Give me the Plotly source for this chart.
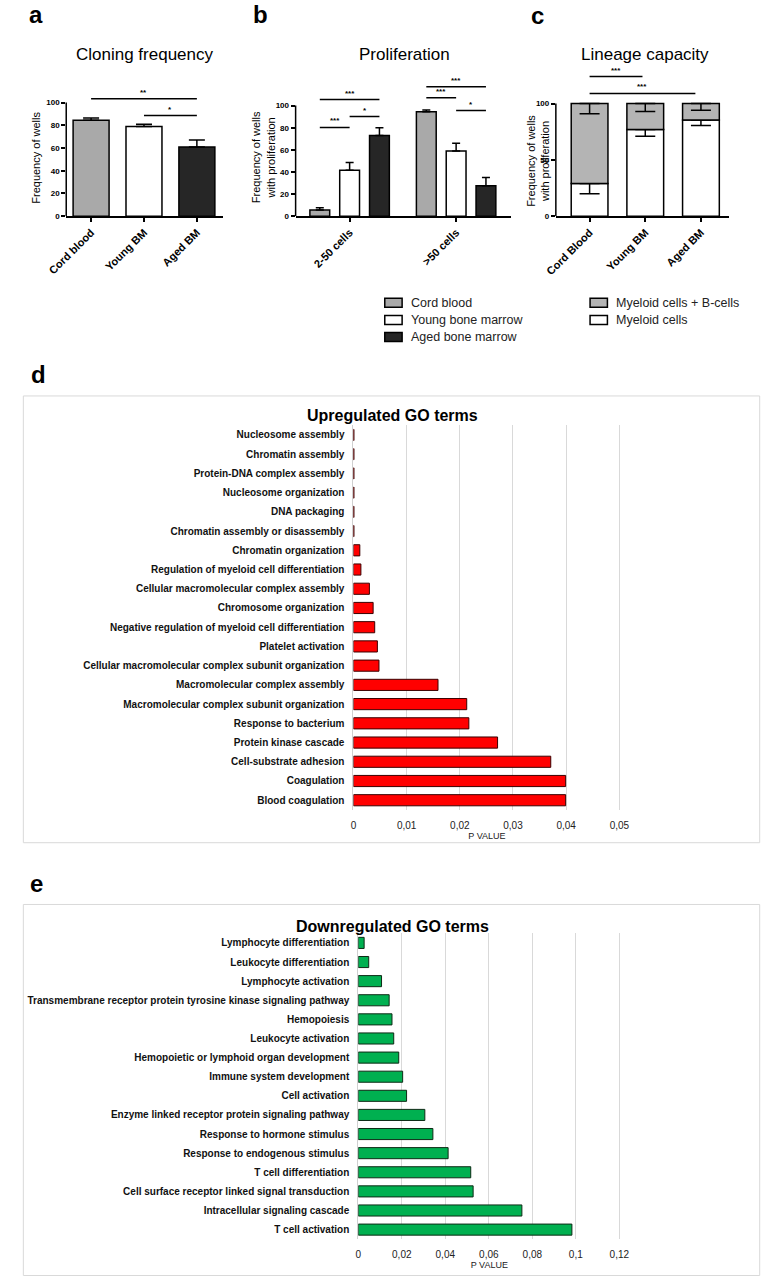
import plotly.graph_objects as go

W, H = 774, 1286
FONT = "Arial, 'Liberation Sans', Helvetica, sans-serif"

# ---------------- data ----------------
cloning_groups = ["Cord blood", "Young BM", "Aged BM"]
cloning_freq = [84.5, 79, 61]
cloning_err = [2, 2, 6]
cloning_sig = [(0, 2, 103.5, "**"), (1, 2, 88.6, "*")]

prolif_cats = ["2-50 cells", ">50 cells"]
prolif_cord = [5.5, 94.5]
prolif_cord_err = [2, 1.5]
prolif_young = [41.5, 59]
prolif_young_err = [7, 7]
prolif_aged = [73, 27.5]
prolif_aged_err = [7, 7.5]
prolif_sig = [(-0.28, 0.28, 105.4, "***"), (0, 0.28, 90.1, "*"), (-0.28, 0, 80.2, "***"),
              (0.72, 1.28, 117, "***"), (0.72, 1.0, 107, "***"), (1.0, 1.28, 95.5, "*")]

lineage_groups = ["Cord Blood", "Young BM", "Aged BM"]
lineage_myeloid = [29, 77, 85.5]
lineage_myeloid_err = [9, 6, 5]
lineage_myeloid_b = [71, 23, 14.5]
lineage_total_err = [9, 7, 6]
lineage_sig = [(0, 0.95, 124, "***"), (0, 1.9, 109, "***")]

up_terms = [
    "Nucleosome assembly", "Chromatin assembly", "Protein-DNA complex assembly",
    "Nucleosome organization", "DNA packaging", "Chromatin assembly or disassembly",
    "Chromatin organization", "Regulation of myeloid cell differentiation",
    "Cellular macromolecular complex assembly", "Chromosome organization",
    "Negative regulation of myeloid cell differentiation", "Platelet activation",
    "Cellular macromolecular complex subunit organization", "Macromolecular complex assembly",
    "Macromolecular complex subunit organization", "Response to bacterium",
    "Protein kinase cascade", "Cell-substrate adhesion", "Coagulation", "Blood coagulation",
]
up_pvalues = [0.0001, 0.0001, 0.0001, 0.0001, 0.0001, 0.0001, 0.0012, 0.0014, 0.0030, 0.0037,
              0.0040, 0.0045, 0.0048, 0.0159, 0.0213, 0.0217, 0.0271, 0.0371, 0.0399, 0.0399]
up_ticks = [0, 0.01, 0.02, 0.03, 0.04, 0.05]
up_ticktext = ["0", "0,01", "0,02", "0,03", "0,04", "0,05"]

down_terms = [
    "Lymphocyte differentiation", "Leukocyte differentiation", "Lymphocyte activation",
    "Transmembrane receptor protein tyrosine kinase signaling pathway", "Hemopoiesis",
    "Leukocyte activation", "Hemopoietic or lymphoid organ development",
    "Immune system development", "Cell activation",
    "Enzyme linked receptor protein signaling pathway", "Response to hormone stimulus",
    "Response to endogenous stimulus", "T cell differentiation",
    "Cell surface receptor linked signal transduction", "Intracellular signaling cascade",
    "T cell activation",
]
down_pvalues = [0.0027, 0.0048, 0.0107, 0.0142, 0.0155, 0.0163, 0.0186, 0.0204, 0.0222, 0.0306,
                0.0343, 0.0413, 0.0517, 0.0528, 0.0752, 0.0982]
down_ticks = [0, 0.02, 0.04, 0.06, 0.08, 0.10, 0.12]
down_ticktext = ["0", "0,02", "0,04", "0,06", "0,08", "0,1", "0,12"]

legend1_labels = ["Cord blood", "Young bone marrow", "Aged bone marrow"]
legend2_labels = ["Myeloid cells + B-cells", "Myeloid cells"]

# ---------------- styles ----------------
GRAY = "#a9a9a9"
LGRAY = "#b4b4b4"
WHITE = "#ffffff"
DARK = "#262626"
RED = "#ff0000"
GREEN = "#00b050"


def fx(p):
    return p / W


def fy(p):
    return 1 - p / H


fig = go.Figure()

bar_line = dict(color="black", width=1.5)

# ---- panel a ----
fig.add_trace(go.Bar(
    x=cloning_groups, y=cloning_freq, width=0.68,
    marker=dict(color=[GRAY, WHITE, DARK], line=bar_line),
    error_y=dict(type="data", symmetric=False, array=cloning_err, arrayminus=[0, 0, 0],
                 color="black", thickness=1.5, width=8),
    xaxis="x", yaxis="y", showlegend=False, hoverinfo="skip"))

# ---- panel b ----
for vals, errs, col, off in [(prolif_cord, prolif_cord_err, GRAY, -0.373),
                             (prolif_young, prolif_young_err, WHITE, -0.093),
                             (prolif_aged, prolif_aged_err, DARK, 0.187)]:
    fig.add_trace(go.Bar(
        x=prolif_cats, y=vals, width=0.186, offset=off,
        marker=dict(color=col, line=bar_line),
        error_y=dict(type="data", symmetric=False, array=errs, arrayminus=[0, 0],
                     color="black", thickness=1.5, width=4),
        xaxis="x2", yaxis="y2", showlegend=False, hoverinfo="skip"))

# ---- panel c ----
fig.add_trace(go.Bar(
    x=lineage_groups, y=lineage_myeloid, width=0.66,
    marker=dict(color=WHITE, line=bar_line),
    error_y=dict(type="data", symmetric=False, array=[0, 0, 0], arrayminus=lineage_myeloid_err,
                 color="black", thickness=1.5, width=10),
    xaxis="x3", yaxis="y3", showlegend=False, hoverinfo="skip"))
fig.add_trace(go.Bar(
    x=lineage_groups, y=lineage_myeloid_b, base=lineage_myeloid, width=0.66,
    marker=dict(color=LGRAY, line=bar_line),
    error_y=dict(type="data", symmetric=False, array=[0, 0, 0], arrayminus=lineage_total_err,
                 color="black", thickness=1.5, width=10),
    xaxis="x3", yaxis="y3", showlegend=False, hoverinfo="skip"))

# ---- panel d ----
fig.add_trace(go.Bar(
    x=up_pvalues, y=up_terms, orientation="h", width=0.58,
    marker=dict(color=RED, line=dict(color="#3a0000", width=1)),
    xaxis="x4", yaxis="y4", showlegend=False, hoverinfo="skip"))

# ---- panel e ----
fig.add_trace(go.Bar(
    x=down_pvalues, y=down_terms, orientation="h", width=0.58,
    marker=dict(color=GREEN, line=dict(color="#0d2a15", width=1)),
    xaxis="x5", yaxis="y5", showlegend=False, hoverinfo="skip"))

# ---------------- axes ----------------
tick_bold = dict(family=FONT, size=8, color="black", weight="bold")
cat_bold = dict(family=FONT, size=11, color="black", weight="bold")


def small_axes(xdom, ydom, xrange, yrange, yticks):
    xa = dict(domain=[fx(xdom[0]), fx(xdom[1])], range=xrange, type="category",
              showline=True, linecolor="black", linewidth=1.5, ticks="outside", ticklen=4,
              tickwidth=1.5, tickcolor="black", tickangle=-45, tickfont=cat_bold,
              showgrid=False, zeroline=False, fixedrange=True)
    ya = dict(domain=[fy(ydom[1]), fy(ydom[0])], range=yrange, showline=False,
              ticks="outside", ticklen=4, tickwidth=1.5, tickcolor="black",
              tickvals=yticks, tickfont=tick_bold, showgrid=False, zeroline=False,
              fixedrange=True)
    return xa, ya


# value 0 at y=217px; px-per-unit differs slightly per panel
xa, ya = small_axes((49, 212), (217 - 120 * 1.14, 217), [-0.47, 2.5], [0, 120],
                    [0, 20, 40, 60, 80, 100])
xa2, ya2 = small_axes((287, 510), (217 - 125 * 1.11, 217), [-0.507, 1.511], [0, 125],
                      [0, 20, 40, 60, 80, 100])
xa3, ya3 = small_axes((557, 737), (217 - 130 * 1.13, 217), [-0.606, 2.51], [0, 130],
                      [0, 50, 100])
ya["anchor"] = "x"; xa["anchor"] = "y"
ya2["anchor"] = "x2"; xa2["anchor"] = "y2"
ya3["anchor"] = "x3"; xa3["anchor"] = "y3"

term_font = dict(family=FONT, size=10, color="#111111", weight="bold")
val_font = dict(family=FONT, size=10, color="#222222")

xa4 = dict(domain=[fx(347), fx(624)], range=[0, 0.0502], anchor="y4",
           tickvals=up_ticks, ticktext=up_ticktext, tickfont=val_font,
           ticks="outside", ticklen=6, tickcolor="rgba(0,0,0,0)",
           showgrid=True, gridcolor="#d9d9d9", gridwidth=1, zeroline=False, showline=False,
           title=dict(text="P VALUE", font=dict(family=FONT, size=9, color="#222222"), standoff=2),
           fixedrange=True)
ya4 = dict(domain=[fy(813), fy(427)], range=[19.5, -0.5], type="category", anchor="x4",
           tickfont=term_font, ticks="outside", ticklen=6, tickcolor="rgba(0,0,0,0)",
           showline=True, linecolor="#d0d0d0", linewidth=1, showgrid=False, zeroline=False,
           fixedrange=True)
xa5 = dict(domain=[fx(352), fx(624)], range=[0, 0.1205], anchor="y5",
           tickvals=down_ticks, ticktext=down_ticktext, tickfont=val_font,
           ticks="outside", ticklen=6, tickcolor="rgba(0,0,0,0)",
           showgrid=True, gridcolor="#d9d9d9", gridwidth=1, zeroline=False, showline=False,
           title=dict(text="P VALUE", font=dict(family=FONT, size=9, color="#222222"), standoff=2),
           fixedrange=True)
ya5 = dict(domain=[fy(1244), fy(937)], range=[15.5, -0.5], type="category", anchor="x5",
           tickfont=term_font, ticks="outside", ticklen=6, tickcolor="rgba(0,0,0,0)",
           showline=True, linecolor="#d0d0d0", linewidth=1, showgrid=False, zeroline=False,
           fixedrange=True)

shapes = []
annotations = []

# y axis lines for GraphPad-style panels (only up to 100)
for xr, yr in [("x domain", "y"), ("x2 domain", "y2"), ("x3 domain", "y3")]:
    shapes.append(dict(type="line", xref=xr, yref=yr, x0=0, x1=0, y0=0, y1=100,
                       line=dict(color="black", width=1.5)))

# significance brackets
for sig, xr, yr in [(cloning_sig, "x", "y"), (prolif_sig, "x2", "y2"), (lineage_sig, "x3", "y3")]:
    for x0, x1, yv, lab in sig:
        shapes.append(dict(type="line", xref=xr, yref=yr, x0=x0, x1=x1, y0=yv, y1=yv,
                           line=dict(color="black", width=1.5)))
        annotations.append(dict(xref=xr, yref=yr, x=(x0 + x1) / 2, y=yv, text="<b>%s</b>" % lab,
                                showarrow=False, yanchor="bottom", yshift=0,
                                font=dict(family=FONT, size=8, color="black")))

# panel boxes
shapes.append(dict(type="rect", xref="paper", yref="paper", x0=fx(4.5), x1=fx(768.5),
                   y0=fy(846), y1=fy(397.5), line=dict(color="#d9d9d9", width=1), layer="below"))
shapes.append(dict(type="rect", xref="paper", yref="paper", x0=fx(4.5), x1=fx(768.5),
                   y0=fy(1280.5), y1=fy(908), line=dict(color="#d9d9d9", width=1), layer="below"))

# legends
leg_font = dict(family=FONT, size=12.5, color="#222222")
for i, (lab, col) in enumerate(zip(legend1_labels, [GRAY, WHITE, DARK])):
    yc = 304 + i * 17.2
    shapes.append(dict(type="rect", xref="paper", yref="paper", x0=fx(379.5), x1=fx(397.5),
                       y0=fy(yc + 4.5), y1=fy(yc - 4.5), fillcolor=col,
                       line=dict(color="black", width=1.5)))
    annotations.append(dict(xref="paper", yref="paper", x=fx(405), y=fy(yc), text=lab,
                            showarrow=False, xanchor="left", yanchor="middle", font=leg_font))
for i, (lab, col) in enumerate(zip(legend2_labels, [LGRAY, WHITE])):
    yc = 304 + i * 17.2
    shapes.append(dict(type="rect", xref="paper", yref="paper", x0=fx(592.5), x1=fx(610.5),
                       y0=fy(yc + 4.5), y1=fy(yc - 4.5), fillcolor=col,
                       line=dict(color="black", width=1.5)))
    annotations.append(dict(xref="paper", yref="paper", x=fx(617), y=fy(yc), text=lab,
                            showarrow=False, xanchor="left", yanchor="middle", font=leg_font))

# panel letters
for lab, px, py in [("a", 18, 15), ("b", 251, 15), ("c", 538, 16), ("d", 20, 376), ("e", 18, 887)]:
    annotations.append(dict(xref="paper", yref="paper", x=fx(px), y=fy(py), text="<b>%s</b>" % lab,
                            showarrow=False, xanchor="center", yanchor="middle",
                            font=dict(family=FONT, size=24, color="black")))

# panel titles
for lab, px, py in [("Cloning frequency", 131, 55), ("Proliferation", 400, 55),
                    ("Lineage capacity", 650, 55)]:
    annotations.append(dict(xref="paper", yref="paper", x=fx(px), y=fy(py), text=lab,
                            showarrow=False, xanchor="center", yanchor="middle",
                            font=dict(family=FONT, size=17, color="black")))
for lab, px, py in [("Upregulated GO terms", 387, 417), ("Downregulated GO terms", 388, 930)]:
    annotations.append(dict(xref="paper", yref="paper", x=fx(px), y=fy(py), text="<b>%s</b>" % lab,
                            showarrow=False, xanchor="center", yanchor="middle",
                            font=dict(family=FONT, size=16, color="black")))

# y-axis titles of top panels
for lab, px, py in [("Frequency of wells", 18, 158),
                    ("Frequency of wells<br>with proliferation", 254, 158),
                    ("Frequency of wells<br>with proliferation", 539, 162)]:
    annotations.append(dict(xref="paper", yref="paper", x=fx(px), y=fy(py), text=lab,
                            showarrow=False, xanchor="center", yanchor="middle", textangle=-90,
                            font=dict(family=FONT, size=11, color="black")))

fig.update_layout(
    width=W, height=H, autosize=False,
    margin=dict(l=0, r=0, t=0, b=0),
    paper_bgcolor="white", plot_bgcolor="rgba(0,0,0,0)",
    barmode="overlay",
    font=dict(family=FONT, color="black"),
    xaxis=xa, yaxis=ya, xaxis2=xa2, yaxis2=ya2, xaxis3=xa3, yaxis3=ya3,
    xaxis4=xa4, yaxis4=ya4, xaxis5=xa5, yaxis5=ya5,
    shapes=shapes, annotations=annotations,
    showlegend=False,
)

fig.write_html("out.html", config={"displayModeBar": False},
               post_script="document.body.style.margin='0px';"
                           "document.body.style.overflow='hidden';"
                           "document.documentElement.style.overflow='hidden';")
